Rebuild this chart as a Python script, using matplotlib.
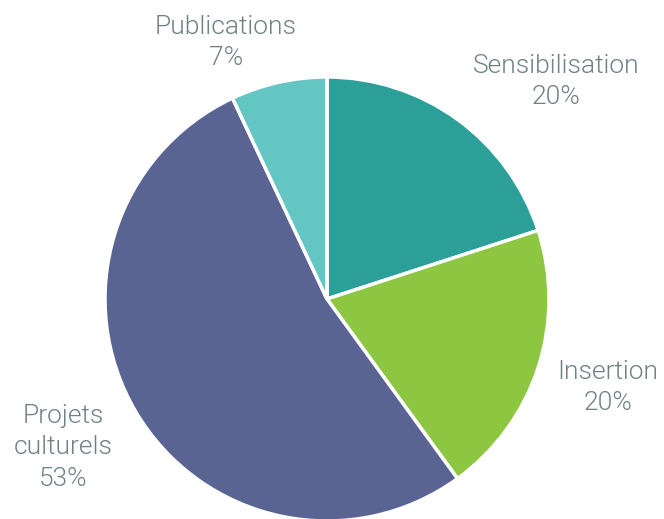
import matplotlib
matplotlib.use("Agg")
import matplotlib.pyplot as plt

categories = ["Sensibilisation", "Insertion", "Projets\nculturels", "Publications"]
values = [20, 20, 53, 7]
colors = ["#2ca098", "#8dc641", "#5a6492", "#63c6c3"]
# label anchor (data units, pie radius = 1)
label_pos = [(1.032, 0.978), (1.266, -0.398), (-1.189, -0.668), (-0.455, 1.155)]

plt.rcParams['font.family'] = ['Roboto', 'DejaVu Sans']

fig = plt.figure(figsize=(6.64, 5.19), dpi=100)
ax = fig.add_axes([0, 0, 1, 1])
ax.pie(values, colors=colors, startangle=90, counterclock=False,
       wedgeprops=dict(edgecolor="white", linewidth=2.5))

for name, v, (x, y) in zip(categories, values, label_pos):
    ax.text(x, y, f"{name}\n{v}%", ha="center", va="center",
            fontsize=19, fontweight=300, color="#6f8281", linespacing=1.38)

ax.set_xlim(-327 / 222, 337 / 222)
ax.set_ylim(-220 / 222, 299 / 222)
ax.set_aspect("equal")
ax.axis("off")

fig.savefig("out.png", dpi=100)
